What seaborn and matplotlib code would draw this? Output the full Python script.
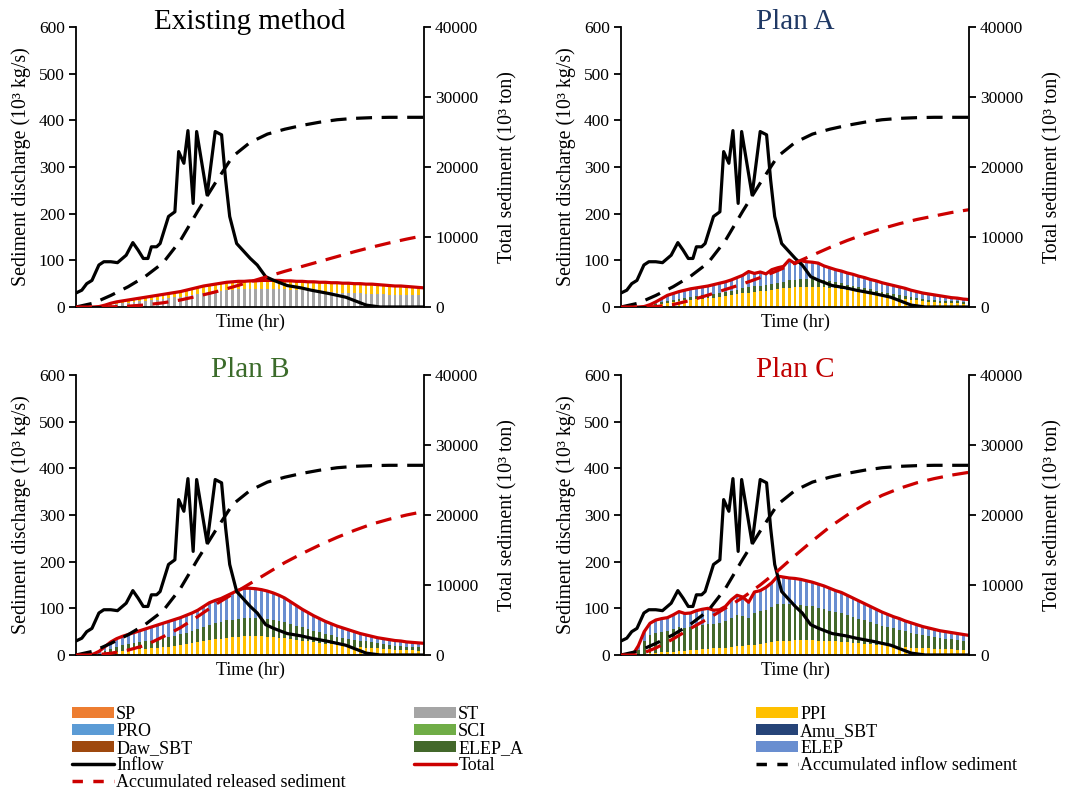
import numpy as np
import matplotlib
matplotlib.use("Agg")
import matplotlib.pyplot as plt
from matplotlib.patches import Patch
from matplotlib.lines import Line2D
import seaborn as sns

# ---------------- data ----------------
bar_hours = list(range(0, 121, 2))      # stacked bar time steps (hr)
acc_hours = list(range(0, 121, 6))      # accumulated curves time steps (hr)

inflow_hours = [0, 2, 3.7, 5.5, 7.9, 9.6, 12, 14.3, 17.3, 19.6, 21.4, 23.2, 24.8, 26, 27.8,
                29, 31.9, 34.1, 35.4, 37.2, 38.6, 40.4, 41.6, 45.2, 48, 50.2, 51.6, 53, 55.4,
                60.1, 62.5, 65.4, 68.2, 72.8, 77.6, 81.1, 87.1, 93, 100.1, 104.9, 120]
inflow = [30, 36, 50, 57, 90, 97, 97, 95, 111, 138, 122, 104, 104, 129, 129,
          136, 194, 204, 333, 308, 378, 222, 376, 240, 376, 369, 272, 194, 136,
          104, 90, 65, 57, 46, 41, 36, 29, 21, 4, 0, 0]

acc_inflow = [0, 550, 1650, 2900, 4400, 6300, 9500, 13700, 17700, 21500, 23500,
              24700, 25400, 25950, 26400, 26750, 26950, 27050, 27100, 27100, 27100]

acc_rel_exist = [0, 0, 20, 120, 300, 600, 1000, 1550, 2150, 2850, 3600,
                 4350, 5100, 5800, 6500, 7200, 7900, 8550, 9150, 9700, 10200]
acc_rel_a = [0, 0, 50, 350, 950, 1700, 2500, 3300, 4200, 5200, 6300,
             7400, 8500, 9500, 10400, 11200, 11900, 12500, 13000, 13500, 13900]
acc_rel_b = [0, 0, 250, 700, 1400, 2600, 3900, 5500, 7200, 8700, 10200,
             11700, 13200, 14500, 15700, 16800, 17800, 18700, 19400, 20000, 20500]
acc_rel_c = [0, 0, 1000, 2300, 3800, 5200, 6700, 8200, 10000, 12000, 14200,
             16300, 18300, 20000, 21500, 22800, 23800, 24600, 25200, 25700, 26100]

exist_st = [0, 0, 0, 0, 1, 3, 5, 7, 8, 9, 11, 12, 13, 15, 16, 18, 19, 21, 22, 24,
            26, 28, 30, 32, 33, 35, 36, 37, 38, 38, 39, 39, 39, 39, 39, 38, 38, 37, 36, 36,
            35, 34, 33, 33, 32, 31, 31, 30, 29, 29, 28, 28, 27, 27, 26, 26, 26, 25, 25, 25, 25]
exist_ppi = [0, 0, 0, 0, 0, 1, 3, 4, 5, 6, 6, 7, 8, 8, 9, 9, 10, 10, 11, 12,
             13, 14, 15, 15, 16, 16, 17, 17, 17, 17, 17, 17, 18, 18, 18, 19, 18, 19, 19, 19,
             19, 20, 20, 20, 20, 21, 20, 21, 21, 21, 21, 21, 21, 20, 20, 19, 19, 19, 18, 17, 16]

a_ppi = [0, 0, 0, 0, 0, 2, 4, 7, 9, 11, 13, 14, 16, 17, 18, 19, 20, 22, 23, 25,
         27, 29, 31, 32, 34, 35, 37, 38, 40, 41, 42, 43, 43, 43, 43, 42, 41, 40, 38, 36,
         34, 32, 30, 28, 26, 24, 22, 20, 18, 17, 15, 14, 12, 11, 10, 9, 9, 8, 8, 7, 7]
a_elep_a = [0, 0, 0, 0, 0, 1, 2, 3, 4, 5, 5, 6, 6, 7, 7, 7, 8, 8, 9, 9,
            10, 11, 12, 12, 12, 12, 13, 14, 14, 16, 15, 16, 16, 16, 15, 15, 14, 13, 13, 12,
            12, 11, 10, 10, 9, 9, 8, 8, 7, 7, 6, 6, 5, 5, 5, 4, 4, 4, 4, 3, 3]
a_elep = [0, 0, 0, 0, 1, 2, 5, 8, 12, 13, 15, 16, 17, 17, 18, 19, 20, 21, 22, 24,
          26, 28, 33, 28, 29, 24, 30, 32, 33, 44, 36, 40, 38, 37, 36, 31, 29, 27, 26, 25,
          24, 23, 23, 21, 21, 19, 19, 18, 18, 16, 15, 13, 13, 12, 11, 11, 9, 8, 7, 7, 6]

b_ppi = [0, 0, 0, 0, 1, 3, 5, 7, 9, 10, 11, 12, 13, 14, 16, 17, 18, 20, 22, 24,
         26, 28, 30, 32, 34, 35, 37, 38, 39, 40, 40, 40, 40, 39, 38, 37, 36, 34, 33, 31,
         29, 27, 26, 24, 23, 21, 20, 19, 18, 17, 16, 15, 14, 13, 12, 11, 11, 10, 10, 9, 9]
b_elep_a = [0, 0, 0, 0, 2, 5, 8, 10, 12, 13, 14, 15, 16, 17, 18, 19, 20, 21, 22, 24,
            26, 28, 30, 32, 34, 35, 37, 38, 39, 40, 40, 40, 39, 38, 37, 36, 34, 32, 30, 28,
            26, 24, 23, 21, 20, 18, 17, 16, 15, 14, 13, 12, 11, 10, 10, 9, 9, 8, 8, 8, 7]
b_elep = [0, 0, 0, 2, 5, 10, 15, 18, 19, 21, 23, 25, 27, 29, 30, 32, 34, 35, 36, 37,
          38, 40, 44, 48, 49, 51, 53, 57, 61, 63, 63, 62, 61, 60, 58, 55, 52, 48, 43, 39,
          36, 33, 29, 27, 24, 23, 21, 19, 17, 15, 14, 13, 12, 12, 11, 11, 10, 10, 9, 9, 9]

c_ppi = [0, 0, 0, 1, 3, 4, 5, 6, 7, 7, 8, 9, 10, 11, 12, 13, 14, 15, 16, 18,
         19, 20, 21, 22, 24, 25, 27, 29, 30, 31, 32, 32, 32, 32, 31, 31, 30, 29, 28, 27,
         26, 25, 24, 23, 22, 21, 20, 19, 18, 17, 16, 15, 15, 14, 13, 13, 12, 12, 11, 11, 11]
c_elep_a = [0, 0, 0, 10, 27, 38, 42, 44, 45, 48, 51, 49, 50, 52, 53, 54, 52, 53, 56, 62,
            66, 64, 59, 69, 70, 72, 75, 80, 79, 78, 77, 76, 74, 72, 70, 68, 65, 63, 61, 58,
            55, 53, 50, 48, 45, 42, 40, 38, 36, 34, 32, 30, 28, 27, 25, 24, 23, 22, 21, 20, 19]
c_elep = [0, 0, 0, 9, 20, 26, 28, 28, 28, 31, 34, 31, 30, 32, 33, 33, 30, 29, 32, 38,
          43, 40, 33, 44, 44, 48, 53, 60, 58, 56, 55, 54, 53, 52, 51, 49, 48, 46, 45, 43,
          41, 38, 36, 33, 31, 29, 27, 25, 24, 22, 21, 20, 18, 17, 17, 15, 15, 14, 14, 13, 12]

legend_cols = [["SP", "PRO", "Daw_SBT", "Inflow", "Accumulated released sediment"],
               ["ST", "SCI", "ELEP_A", "Total"],
               ["PPI", "Amu_SBT", "ELEP", "Accumulated inflow sediment"]]

# ---------------- style ----------------
colors = {"SP": "#ED7D31", "ST": "#A5A5A5", "PPI": "#FFC000", "PRO": "#5B9BD5",
          "SCI": "#70AD47", "Amu_SBT": "#264478", "Daw_SBT": "#9E480E",
          "ELEP_A": "#43682B", "ELEP": "#698ED0"}
RED = "#CC0000"
LW = 2.3
DASH = (0, (5, 3))

sns.set_theme(style="ticks")
plt.rcParams["font.family"] = ["Liberation Serif", "DejaVu Serif"]
plt.rcParams.update({"axes.edgecolor": "black", "axes.linewidth": 1.3,
                     "xtick.color": "black", "ytick.color": "black",
                     "ytick.major.size": 5, "ytick.major.width": 1.3,
                     "text.color": "black", "axes.labelcolor": "black"})

W, H = 1065, 794
fig = plt.figure(figsize=(W / 100, H / 100), dpi=100)

panels = [
    ("Existing method", "black", [("ST", exist_st), ("PPI", exist_ppi)], acc_rel_exist, (76, 27)),
    ("Plan A", "#1F3864", [("PPI", a_ppi), ("ELEP_A", a_elep_a), ("ELEP", a_elep)], acc_rel_a, (621, 27)),
    ("Plan B", "#3B6B2A", [("PPI", b_ppi), ("ELEP_A", b_elep_a), ("ELEP", b_elep)], acc_rel_b, (76, 375)),
    ("Plan C", "#C00000", [("PPI", c_ppi), ("ELEP_A", c_elep_a), ("ELEP", c_elep)], acc_rel_c, (621, 375)),
]
AW, AH = 348, 280
TICK_FS = 12.5
LAB_FS = 14.3

for title, tcol, comps, acc_rel, (px, py) in panels:
    ax = fig.add_axes([px / W, 1 - (py + AH) / H, AW / W, AH / H])
    layers = np.cumsum(np.array([c[1] for c in comps], dtype=float), axis=0)
    for (name, _), top in reversed(list(zip(comps, layers))):
        sns.barplot(x=bar_hours, y=top, native_scale=True, color=colors[name],
                    width=0.5, saturation=1, errorbar=None, linewidth=0, ax=ax)
    sns.lineplot(x=bar_hours, y=layers[-1], color=RED, linewidth=LW, ax=ax)
    sns.lineplot(x=inflow_hours, y=inflow, color="black", linewidth=LW, ax=ax)
    ax.set_xlim(0, 120)
    ax.set_ylim(0, 600)
    ax.set_yticks(range(0, 601, 100))
    ax.set_xticks([])
    ax.tick_params(axis="y", labelsize=TICK_FS, direction="out", pad=3)
    ax.spines["top"].set_visible(False)
    ax.spines["right"].set_visible(False)
    ax.set_xlabel("Time (hr)", fontsize=13, labelpad=5)
    ax.set_ylabel("Sediment discharge (10³ kg/s)", fontsize=LAB_FS, labelpad=6)

    ax2 = ax.twinx()
    sns.lineplot(x=acc_hours, y=acc_inflow, color="black", linewidth=LW,
                 linestyle=DASH, ax=ax2)
    sns.lineplot(x=acc_hours, y=acc_rel, color=RED, linewidth=LW,
                 linestyle=DASH, ax=ax2)
    ax2.set_xlim(0, 120)
    ax2.set_ylim(0, 40000)
    ax2.set_yticks(range(0, 40001, 10000))
    ax2.tick_params(axis="y", labelsize=TICK_FS, direction="out", pad=3)
    for s in ("top", "left", "bottom"):
        ax2.spines[s].set_visible(False)
    ax2.set_ylabel("Total sediment (10³ ton)", fontsize=LAB_FS, labelpad=14)
    ax.text(0.5, 1.0 + 5 / AH, title, transform=ax.transAxes, ha="center",
            va="center", fontsize=21, color=tcol)

# ---------------- legend ----------------
def handle_for(name):
    if name in colors:
        return Patch(facecolor=colors[name], edgecolor="none")
    if name == "Inflow":
        return Line2D([], [], color="black", linewidth=2.5)
    if name == "Total":
        return Line2D([], [], color=RED, linewidth=2.5)
    if name == "Accumulated inflow sediment":
        return Line2D([], [], color="black", linewidth=2.5, linestyle=(0, (3, 3)))
    return Line2D([], [], color=RED, linewidth=2.5, linestyle=(0, (3, 3)))

for names, xpx in zip(legend_cols, (72, 414, 756)):
    fig.legend(handles=[handle_for(n) for n in names], labels=names,
               loc="upper left", bbox_to_anchor=(xpx / W, 1 - 706 / H),
               frameon=False, fontsize=13, borderpad=0, borderaxespad=0,
               handlelength=2.3, handleheight=0.55, handletextpad=0.15,
               labelspacing=0.0)

fig.savefig("out.png", dpi=100)
